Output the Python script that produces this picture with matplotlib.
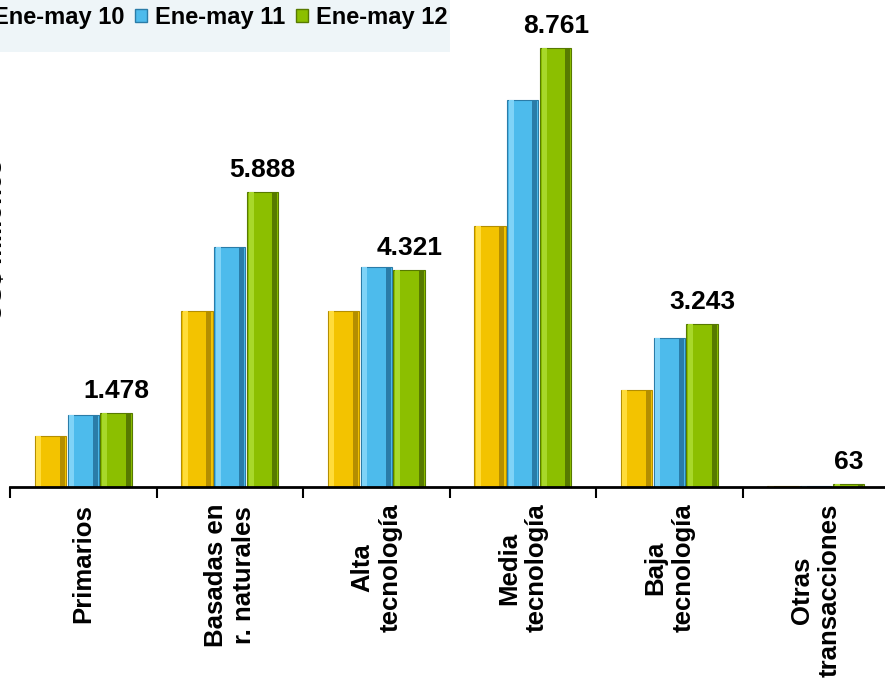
import matplotlib
matplotlib.use("Agg")
import matplotlib.pyplot as plt
from matplotlib.patches import Patch, Rectangle
import numpy as np

plt.rcParams["font.family"] = ["Liberation Sans", "DejaVu Sans"]
plt.rcParams["font.weight"] = "bold"

categories = ["Primarios", "Basadas en\nr. naturales", "Alta\ntecnología",
              "Media\ntecnología", "Baja\ntecnología", "Otras\ntransacciones"]
series_names = ["Ene-may 10", "Ene-may 11", "Ene-may 12"]
ene_may_10 = [1020, 3510, 3510, 5210, 1940, 10]
ene_may_11 = [1430, 4790, 4390, 7720, 2970, 20]
ene_may_12 = [1478, 5888, 4321, 8761, 3243, 63]

colors = ["#f3c300", "#4dbbec", "#8cbf00"]
dark = ["#b48e00", "#2a7ca8", "#577a00"]
light = ["#ffdc3a", "#7fd3f7", "#a8d82a"]

W, H = 885, 684
fig = plt.figure(figsize=(W / 100, H / 100), dpi=100)
ax = fig.add_axes([10 / W, (H - 487) / H, 879 / W, 451 / H])

x = np.arange(len(categories))
bw = 0.215
offsets = [-0.225, 0.0, 0.225]
for vals, off, c, d, l in zip([ene_may_10, ene_may_11, ene_may_12], offsets, colors, dark, light):
    ax.bar(x + off, vals, bw, color=c, edgecolor=d, linewidth=0.8, zorder=2)
    # bevel look: light left strip and dark right strip
    ax.bar(x + off - bw * 0.36, vals, bw * 0.16, color=l, linewidth=0, zorder=3)
    ax.bar(x + off + bw * 0.38, vals, bw * 0.16, color=d, linewidth=0, zorder=3)

for xi, v in zip(x, ene_may_12):
    ax.annotate(f"{v:,}".replace(",", "."), (xi + offsets[2], v),
                xytext=(0, 11), textcoords="offset points",
                ha="center", va="baseline", fontsize=19, fontweight="bold")

ax.set_xlim(-0.5, len(categories) - 0.5)
ax.set_ylim(0, 9000)
for s in ["top", "right", "left"]:
    ax.spines[s].set_visible(False)
ax.spines["bottom"].set_linewidth(2)
ax.spines["bottom"].set_zorder(5)
ax.set_yticks([])

ax.set_xticks(x)
ax.set_xticklabels(categories, rotation=90, fontsize=18.5, fontweight="bold",
                   ha="center", va="top", multialignment="center")
ax.tick_params(axis="x", which="major", length=0, pad=12)
ax.set_xticks(np.arange(-0.5, len(categories)), minor=True)
ax.tick_params(axis="x", which="minor", length=8, width=1.5, direction="out")

fig.text(7 / W, 1 - 240 / H, "US$ millones", rotation=90, ha="right", va="center",
         fontsize=18.5, fontweight="bold")

# legend background band
fig.patches.append(Rectangle((0, 1 - 52 / H), 450 / W, 52 / H, transform=fig.transFigure,
                             facecolor="#eef5f8", edgecolor="none", zorder=0))
handles = [Patch(facecolor=c, edgecolor=d) for c, d in zip(colors, dark)]
fig.legend(handles, series_names, loc="upper left", bbox_to_anchor=(-27 / W, 1 - 6 / H),
           ncol=3, frameon=False, handlelength=0.5, handleheight=0.5,
           handletextpad=0.35, columnspacing=0.45, borderpad=0, borderaxespad=0,
           prop={"weight": "bold", "size": 17})

fig.savefig("out.png", dpi=100)
